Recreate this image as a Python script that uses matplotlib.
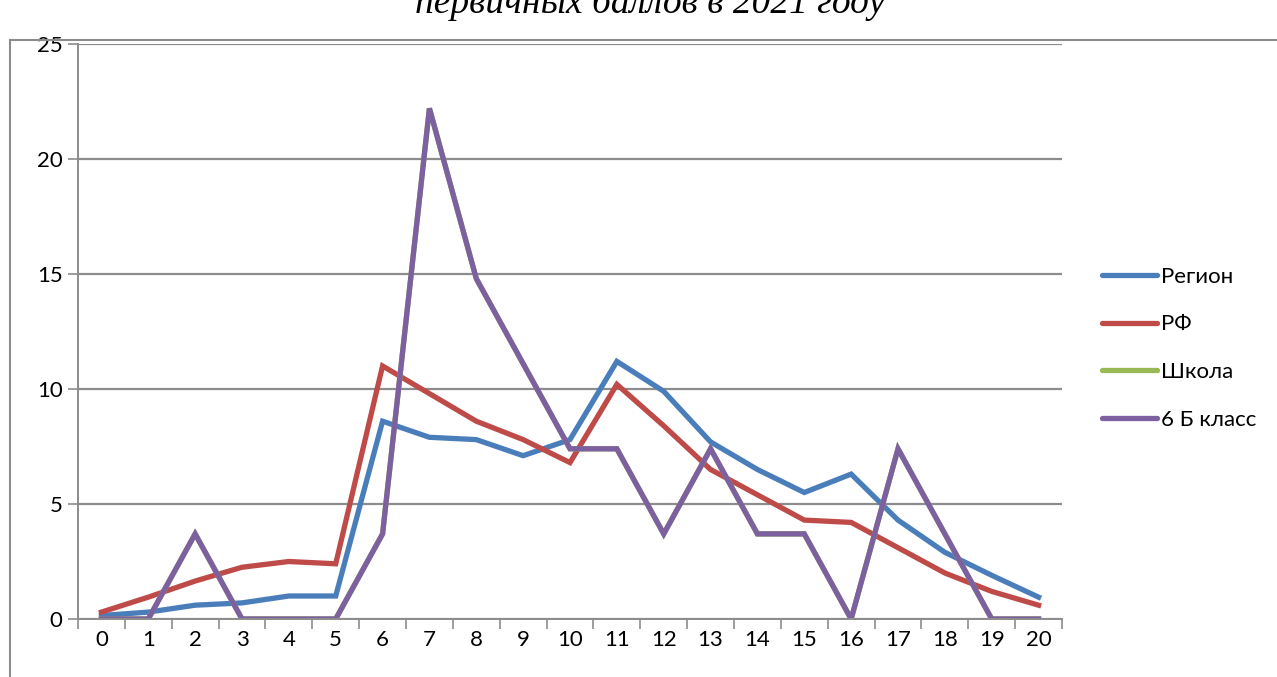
import matplotlib.pyplot as plt
from matplotlib.lines import Line2D
from matplotlib.patches import Rectangle

# баллы и доли (%) по каждой группе
scores = list(range(21))
region = [0.15, 0.3, 0.6, 0.7, 1.0, 1.0, 8.6, 7.9, 7.8, 7.1, 7.8, 11.2, 9.9, 7.7, 6.5, 5.5, 6.3, 4.3, 2.9, 1.9, 0.95]
rf = [0.3, 0.95, 1.65, 2.25, 2.5, 2.4, 11.0, 9.8, 8.6, 7.8, 6.8, 10.2, 8.4, 6.5, 5.4, 4.3, 4.2, 3.1, 2.0, 1.2, 0.6]
school = [0, 0, 3.7, 0, 0, 0, 3.7, 22.2, 14.8, 11.1, 7.4, 7.4, 3.7, 7.4, 3.7, 3.7, 0, 7.4, 3.7, 0, 0]
klass = [0, 0, 3.7, 0, 0, 0, 3.7, 22.2, 14.8, 11.1, 7.4, 7.4, 3.7, 7.4, 3.7, 3.7, 0, 7.4, 3.7, 0, 0]
names = ['Регион', 'РФ', 'Школа', '6 Б класс']
colors = ['#4a7ebb', '#be4b48', '#98b954', '#7d60a0']

plt.rcParams['font.family'] = ['Lato', 'DejaVu Sans']

fig = plt.figure(figsize=(12.77, 6.77), dpi=100)
ax = fig.add_axes([78 / 1277, 58 / 677, 984 / 1277, 575 / 677])

# рамка диаграммы (обрезана справа и снизу)
fig.patches.append(Rectangle((10 / 1277, -0.1), 1.2, (677 - 40) / 677 + 0.1,
                             transform=fig.transFigure, fill=False,
                             edgecolor='#8c8c8c', linewidth=1.5))

# заголовок обрезан сверху, как на исходной картинке
fig.text(0.509, 1 - 3 / 677, 'первичных баллов в 2021 году', ha='center', va='center',
         fontsize=27, style='italic', family=['Liberation Serif', 'DejaVu Serif'])

for vals, name, c in zip([region, rf, school, klass], names, colors):
    ax.plot(scores, vals, color=c, linewidth=3.8, label=name, solid_joinstyle='miter')

ax.set_xlim(-0.5, 20.5)
ax.set_ylim(0, 25)
ax.set_yticks([0, 5, 10, 15, 20, 25])
ax.set_xticks(scores)
ax.set_xticks([i - 0.5 for i in range(22)], minor=True)
ax.tick_params(axis='x', which='major', length=0, labelsize=16, pad=8)
ax.tick_params(axis='x', which='minor', length=7, width=1.2, color='#8c8c8c')
ax.tick_params(axis='y', length=7, width=1.2, color='#8c8c8c', labelsize=16, pad=4)
ax.grid(axis='y', color='#8c8c8c', linewidth=1.6)
ax.set_axisbelow(True)
for s in ['top', 'right']:
    ax.spines[s].set_visible(False)
for s in ['left', 'bottom']:
    ax.spines[s].set_color('#8c8c8c')
    ax.spines[s].set_linewidth(1.4)

handles = [Line2D([], [], color=c, linewidth=3.8, solid_capstyle='round') for c in colors]
ax.legend(handles, names, loc='center left', bbox_to_anchor=(1.02, 0.471), frameon=False,
          fontsize=16, handlelength=2.5, handletextpad=0.15, labelspacing=1.25)

fig.savefig('out.png', dpi=100)
